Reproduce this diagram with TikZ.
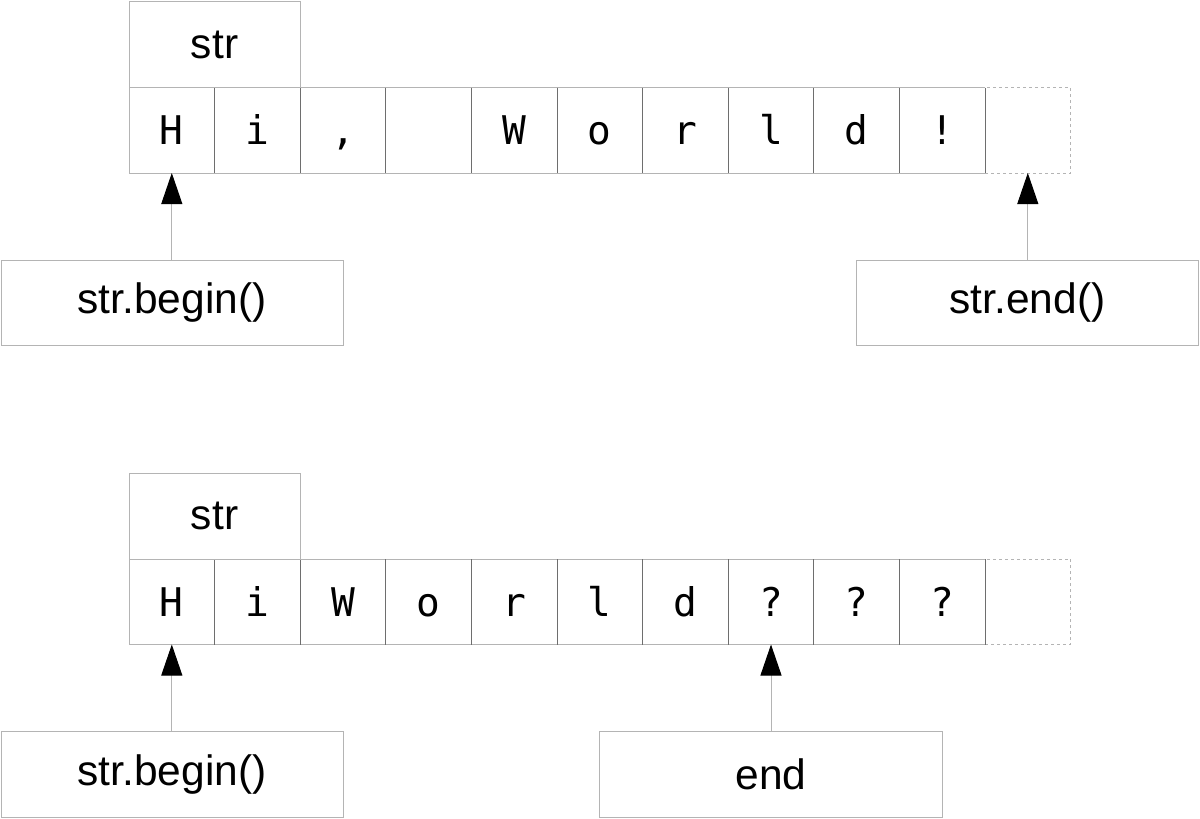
\documentclass[tikz,border=0pt]{standalone}
\usepackage{fontspec}
\setmainfont{Liberation Sans}
\newfontfamily\monof{DejaVu Sans Mono}
\usetikzlibrary{arrows.meta}
\definecolor{lightline}{HTML}{B4B4B4}
\definecolor{darkline}{HTML}{6E6E6E}
\tikzset{
  cellbox/.style={minimum width=85.6pt,minimum height=85.5pt,inner sep=0pt,outer sep=0pt,anchor=north west,text height=28.5pt,text depth=0pt,font=\monof\fontsize{39.5}{39.5}\selectfont},
  endcell/.style={cellbox,draw=lightline,dashed,dash pattern=on 3pt off 3pt,line width=0.8pt},
  labelbox/.style={draw=lightline,line width=0.8pt,inner sep=0pt,outer sep=0pt,anchor=north west,font=\fontsize{42.5}{42.5}\selectfont},
  strbox/.style={draw=lightline,line width=0.8pt,minimum width=171.2pt,minimum height=86pt,inner sep=0pt,outer sep=0pt,anchor=south west,font=\fontsize{42.5}{42.5}\selectfont},
  ptr/.style={draw=lightline,line width=1pt,-{Triangle[length=31pt,width=21pt,color=black,fill=black]}},
  hline/.style={draw=lightline,line width=0.8pt},
  vline/.style={draw=darkline,line width=0.8pt},
}
\begin{document}
\begin{tikzpicture}[x=1pt,y=-1pt]
\useasboundingbox (0,0) rectangle (1200,819);
% ---------- top ----------
\foreach \c [count=\i from 0] in {H,i,{,},{},W,o,r,l,d,!}{
  \node[cellbox] (t\i) at ({129+85.6*\i},87.5) {\c};
}
\node[endcell] (t10) at ({129+85.6*10},87.5) {};
\draw[hline] (t0.north west) -- (t9.north east);
\draw[hline] (t0.south west) -- (t9.south east);
\draw[hline] (t0.north west) -- (t0.south west);
\foreach \i in {0,...,8}{ \draw[vline] (t\i.north east) -- (t\i.south east); }
\draw[vline] (t9.north east) -- (t9.south east);
\node[strbox] (tstr) at (t0.north west) {str};
\node[labelbox,minimum width=342pt,minimum height=85pt] (tbeg) at (1,260) {str.begin()};
\node[labelbox,minimum width=342pt,minimum height=85pt] (tend) at (856.5,260) {str.end()};
\draw[ptr] (tbeg.north -| t0.south) -- (t0.south);
\draw[ptr] (tend.north -| t10.south) -- (t10.south);
% ---------- bottom ----------
\foreach \c [count=\i from 0] in {H,i,W,o,r,l,d,?,?,?}{
  \node[cellbox] (b\i) at ({129+85.6*\i},559) {\c};
}
\node[endcell] (b10) at ({129+85.6*10},559) {};
\draw[hline] (b0.north west) -- (b9.north east);
\draw[hline] (b0.south west) -- (b9.south east);
\draw[hline] (b0.north west) -- (b0.south west);
\foreach \i in {0,...,8}{ \draw[vline] (b\i.north east) -- (b\i.south east); }
\draw[vline] (b9.north east) -- (b9.south east);
\node[strbox] (bstr) at (b0.north west) {str};
\node[labelbox,minimum width=342pt,minimum height=85.5pt] (bbeg) at (1,731.5) {str.begin()};
\node[labelbox,minimum width=343pt,minimum height=85.5pt] (bend) at (599.5,731.5) {end};
\draw[ptr] (bbeg.north -| b0.south) -- (b0.south);
\draw[ptr] (bend.north -| b7.south) -- (b7.south);
\end{tikzpicture}
\end{document}
